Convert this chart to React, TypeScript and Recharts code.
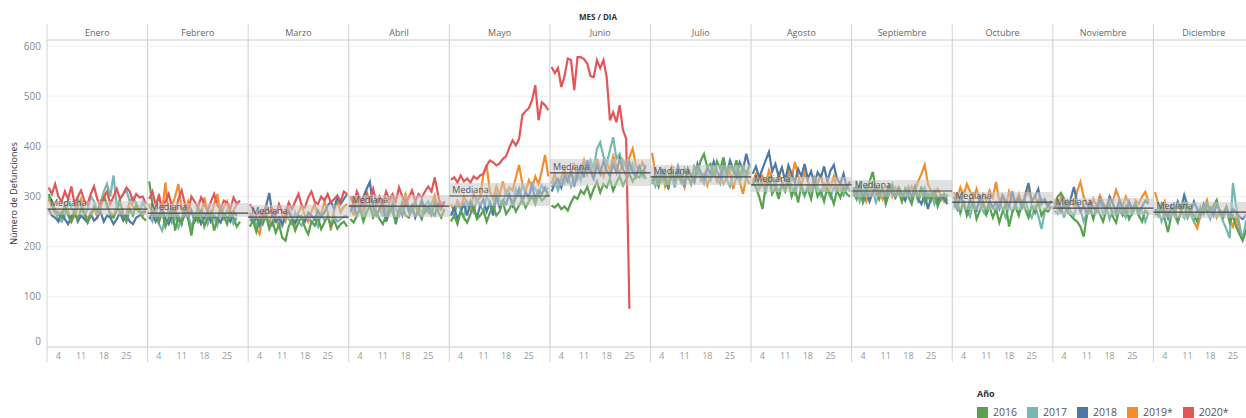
import React from 'react';
import { LineChart, Line, XAxis, YAxis, CartesianGrid, ReferenceLine, ReferenceArea, Legend } from 'recharts';

const FONT = '"Open Sans", "DejaVu Sans", sans-serif';
const DAYS = 31;

const months = ['Enero', 'Febrero', 'Marzo', 'Abril', 'Mayo', 'Junio', 'Julio', 'Agosto', 'Septiembre', 'Octubre', 'Noviembre', 'Diciembre'];
const dayTicks = [4, 11, 18, 25];
const yTicks = [0, 100, 200, 300, 400, 500, 600];

// mediana mensual y banda gris alrededor
const medians = [275, 267, 259, 281, 301, 347, 339, 323, 311, 289, 277, 269];
const bandLow = [263, 259, 255, 259, 281, 321, 323, 309, 299, 273, 263, 257];
const bandHigh = [291, 287, 283, 303, 327, 375, 363, 339, 333, 309, 297, 289];

// defunciones diarias, un array por mes
const d2016 = [
  [305, 290, 272, 265, 258, 280, 262, 250, 270, 255, 275, 268, 248, 262, 280, 270, 288, 298, 285, 262, 258, 272, 290, 265, 250, 275, 262, 285, 270, 258, 252],
  [330, 285, 262, 248, 270, 240, 258, 275, 232, 262, 245, 280, 255, 222, 262, 250, 275, 240, 258, 268, 232, 255, 278, 262, 245, 270, 258, 240, 250],
  [240, 252, 230, 258, 245, 262, 235, 250, 228, 245, 218, 212, 240, 255, 232, 248, 260, 238, 225, 250, 242, 258, 235, 248, 262, 240, 252, 236, 245, 250, 240],
  [255, 248, 262, 275, 250, 268, 282, 258, 270, 255, 245, 262, 278, 268, 250, 272, 285, 262, 258, 275, 290, 268, 255, 280, 272, 262, 288, 270, 258, 275],
  [250, 262, 245, 270, 258, 248, 265, 280, 255, 262, 272, 250, 268, 282, 262, 270, 290, 265, 275, 288, 270, 282, 295, 278, 290, 300, 285, 305, 292, 298, 310],
  [282, 278, 285, 275, 280, 272, 288, 300, 295, 312, 305, 320, 298, 315, 330, 308, 325, 318, 335, 312, 328, 340, 322, 335, 345, 330, 342, 338, 350, 335],
  [325, 338, 320, 345, 332, 318, 350, 335, 342, 328, 355, 340, 325, 360, 348, 372, 385, 358, 365, 340, 370, 355, 378, 345, 362, 350, 372, 340, 358, 345, 362],
  [330, 318, 300, 275, 320, 335, 305, 318, 295, 325, 310, 330, 300, 318, 288, 322, 305, 315, 295, 328, 300, 312, 290, 318, 305, 285, 312, 298, 320, 305, 300],
  [310, 295, 320, 288, 305, 330, 349, 312, 295, 318, 285, 305, 322, 298, 310, 290, 315, 300, 285, 312, 298, 320, 288, 305, 292, 310, 280, 298, 305, 290],
  [300, 285, 270, 292, 262, 278, 288, 255, 272, 290, 265, 280, 258, 275, 248, 270, 285, 240, 268, 280, 262, 290, 275, 258, 282, 268, 290, 262, 275, 270, 280],
  [285, 300, 307, 295, 270, 262, 255, 250, 240, 220, 262, 275, 255, 280, 265, 250, 272, 285, 260, 248, 275, 262, 280, 255, 268, 285, 262, 250, 272, 265],
  [270, 262, 280, 255, 229, 262, 275, 250, 268, 285, 258, 272, 262, 250, 278, 265, 285, 270, 282, 293, 265, 258, 275, 248, 262, 240, 225, 212, 230, 245, 250],
];
const d2017 = [
  [300, 285, 270, 255, 250, 262, 290, 278, 268, 295, 282, 260, 275, 300, 290, 270, 280, 310, 325, 300, 342, 280, 295, 305, 312, 290, 298, 285, 270, 288, 275],
  [262, 250, 275, 245, 232, 258, 270, 248, 262, 238, 255, 280, 262, 240, 258, 272, 250, 265, 245, 270, 258, 242, 268, 255, 272, 260, 245, 258],
  [250, 262, 245, 238, 255, 268, 248, 242, 258, 250, 240, 262, 255, 245, 268, 250, 242, 258, 262, 248, 255, 240, 265, 252, 258, 245, 262, 250, 255, 260, 262],
  [268, 275, 282, 270, 262, 285, 278, 268, 290, 275, 262, 282, 270, 288, 275, 265, 280, 292, 278, 270, 285, 275, 268, 282, 290, 278, 285, 272, 280, 290],
  [270, 262, 285, 275, 258, 290, 280, 268, 295, 282, 270, 300, 288, 278, 305, 292, 285, 310, 298, 288, 315, 302, 320, 308, 295, 325, 315, 305, 322, 312, 318],
  [318, 330, 312, 335, 325, 342, 320, 338, 350, 332, 360, 345, 372, 355, 395, 408, 380, 365, 392, 418, 375, 385, 360, 372, 350, 365, 345, 358, 340, 352],
  [335, 320, 345, 330, 352, 325, 340, 318, 348, 335, 322, 355, 340, 328, 350, 338, 325, 345, 332, 352, 338, 325, 348, 335, 320, 342, 355, 330, 345, 338, 350],
  [322, 335, 315, 328, 305, 340, 318, 330, 308, 325, 312, 338, 320, 305, 328, 315, 300, 322, 310, 335, 318, 302, 325, 312, 298, 320, 308, 315, 302, 318, 310],
  [300, 315, 290, 308, 322, 298, 312, 288, 305, 318, 295, 310, 325, 300, 315, 292, 308, 320, 298, 312, 290, 305, 318, 295, 310, 285, 300, 292, 305, 298],
  [278, 290, 265, 285, 272, 260, 288, 275, 295, 270, 262, 285, 278, 268, 290, 275, 258, 282, 270, 288, 265, 278, 292, 270, 258, 280, 262, 235, 270, 282, 278],
  [272, 265, 280, 258, 290, 270, 262, 285, 275, 250, 268, 282, 260, 275, 290, 265, 280, 255, 272, 262, 285, 270, 258, 275, 265, 280, 262, 272, 250, 268],
  [262, 275, 250, 268, 255, 280, 262, 248, 272, 258, 282, 265, 250, 275, 262, 285, 270, 255, 278, 262, 268, 250, 235, 217, 327, 280, 245, 213, 250, 265, 270],
];
const d2018 = [
  [275, 262, 258, 250, 268, 255, 245, 260, 270, 250, 262, 255, 248, 265, 252, 258, 270, 250, 262, 258, 245, 255, 268, 252, 262, 250, 245, 258, 262, 270, 268],
  [255, 268, 250, 262, 278, 255, 245, 262, 270, 252, 248, 265, 258, 272, 250, 262, 245, 258, 268, 250, 262, 255, 248, 265, 258, 250, 268, 262],
  [262, 250, 258, 245, 268, 280, 307, 262, 250, 258, 245, 262, 270, 255, 248, 262, 258, 250, 268, 262, 255, 272, 260, 268, 282, 290, 275, 300, 285, 295, 305],
  [270, 285, 262, 278, 300, 315, 329, 280, 262, 275, 290, 250, 268, 282, 245, 275, 262, 290, 270, 282, 258, 275, 292, 268, 280, 270, 262, 285, 278, 290],
  [262, 278, 255, 270, 285, 262, 290, 275, 258, 282, 295, 270, 288, 262, 300, 278, 292, 285, 305, 282, 298, 315, 290, 308, 300, 322, 295, 312, 305, 318, 300],
  [310, 325, 335, 318, 342, 330, 352, 320, 345, 360, 338, 372, 350, 335, 362, 345, 370, 352, 340, 365, 348, 375, 355, 342, 368, 350, 338, 360, 345, 362],
  [330, 345, 322, 352, 338, 315, 348, 332, 360, 340, 325, 355, 342, 330, 365, 348, 335, 358, 345, 370, 350, 338, 362, 345, 372, 355, 340, 368, 352, 385, 360],
  [345, 360, 338, 355, 372, 389, 350, 365, 340, 358, 332, 362, 345, 328, 355, 340, 365, 335, 350, 325, 348, 338, 360, 330, 352, 363, 335, 325, 345, 318, 330],
  [318, 305, 325, 298, 312, 290, 308, 320, 300, 315, 295, 322, 308, 298, 318, 305, 292, 312, 300, 320, 295, 285, 305, 275, 298, 310, 290, 302, 295, 285],
  [290, 275, 300, 285, 268, 295, 280, 272, 298, 285, 270, 292, 278, 288, 275, 302, 290, 280, 310, 285, 298, 275, 305, 327, 290, 300, 315, 285, 295, 280, 290],
  [278, 290, 270, 285, 275, 295, 319, 288, 270, 282, 265, 290, 278, 270, 295, 282, 275, 300, 285, 270, 292, 278, 268, 290, 275, 285, 270, 280, 292, 285],
  [275, 262, 285, 270, 258, 280, 268, 290, 275, 303, 282, 268, 290, 275, 262, 285, 270, 278, 262, 285, 272, 265, 280, 258, 275, 268, 260, 255, 262, 270, 275],
];
const d2019 = [
  [295, 280, 265, 270, 258, 285, 272, 250, 262, 280, 295, 270, 255, 268, 275, 260, 290, 305, 280, 268, 262, 278, 270, 255, 265, 290, 280, 275, 268, 262, 275],
  [285, 262, 278, 305, 270, 328, 262, 282, 300, 325, 275, 262, 290, 270, 255, 280, 262, 298, 270, 258, 285, 305, 262, 278, 290, 265, 272, 285],
  [268, 250, 238, 225, 258, 262, 245, 270, 255, 238, 262, 250, 275, 258, 245, 268, 282, 262, 250, 270, 285, 258, 262, 290, 270, 232, 275, 292, 268, 280, 285],
  [285, 262, 295, 278, 270, 312, 285, 262, 280, 295, 270, 258, 288, 300, 275, 262, 290, 305, 278, 270, 285, 262, 292, 278, 268, 285, 302, 275, 288, 280],
  [285, 270, 292, 278, 300, 285, 272, 305, 290, 298, 345, 362, 310, 295, 320, 302, 330, 305, 318, 312, 338, 363, 325, 310, 332, 318, 340, 325, 352, 383, 340],
  [325, 345, 318, 338, 355, 330, 348, 362, 335, 350, 372, 345, 360, 338, 375, 355, 340, 368, 352, 380, 360, 345, 372, 358, 378, 395, 362, 350, 368, 355],
  [387, 345, 330, 352, 320, 340, 358, 325, 345, 335, 318, 350, 340, 328, 355, 332, 345, 322, 340, 352, 330, 345, 325, 338, 350, 315, 342, 330, 305, 338, 325],
  [330, 345, 318, 340, 325, 352, 335, 320, 345, 330, 318, 350, 335, 369, 340, 322, 348, 330, 315, 338, 325, 345, 310, 332, 318, 340, 312, 328, 305, 320, 315],
  [305, 320, 298, 312, 290, 308, 325, 302, 315, 295, 310, 322, 300, 318, 305, 292, 315, 302, 320, 310, 330, 345, 363, 325, 310, 298, 315, 302, 290, 305],
  [308, 295, 318, 302, 325, 310, 295, 315, 288, 305, 292, 312, 298, 329, 290, 302, 280, 310, 292, 288, 305, 282, 298, 312, 290, 302, 285, 295, 288, 282, 292],
  [290, 275, 300, 285, 270, 295, 282, 310, 329, 300, 285, 270, 295, 280, 302, 288, 275, 298, 290, 313, 295, 280, 300, 285, 270, 292, 285, 300, 309, 290],
  [309, 285, 272, 290, 265, 280, 262, 285, 272, 258, 278, 265, 250, 237, 262, 275, 293, 270, 282, 258, 272, 262, 280, 255, 240, 260, 232, 218, 240, 250, 258],
];
const d2020 = [
  [318, 305, 325, 300, 290, 310, 295, 320, 285, 300, 312, 292, 285, 305, 320, 295, 280, 298, 310, 285, 300, 315, 295, 305, 318, 310, 290, 305, 298, 300, 285],
  [295, 310, 282, 300, 275, 290, 305, 280, 268, 295, 312, 285, 270, 300, 290, 278, 298, 285, 270, 290, 305, 282, 275, 292, 288, 275, 298, 285, 292],
  [285, 275, 262, 270, 258, 280, 268, 275, 262, 285, 270, 265, 288, 275, 290, 305, 282, 278, 298, 310, 290, 285, 300, 292, 305, 288, 295, 302, 290, 310, 305],
  [300, 285, 310, 295, 280, 305, 292, 315, 288, 300, 282, 310, 295, 305, 290, 318, 300, 285, 298, 312, 290, 305, 298, 310, 320, 310, 338, 305, 275, 288],
  [333, 338, 328, 342, 330, 336, 328, 340, 335, 342, 345, 362, 372, 368, 362, 366, 375, 380, 398, 412, 402, 415, 462, 470, 476, 492, 522, 452, 488, 482, 472],
  [558, 546, 556, 518, 540, 575, 572, 512, 578, 578, 574, 565, 540, 538, 572, 556, 572, 538, 452, 468, 448, 482, 433, 415, 76],
];

const legendOrder = [
  { name: '2016', color: '#59A14F' },
  { name: '2017', color: '#76B7B2' },
  { name: '2018', color: '#4E79A7' },
  { name: '2019*', color: '#F28E2B' },
  { name: '2020*', color: '#E15759' },
];

// orden de dibujo (la ultima queda encima)
const series = [
  { key: 'y2019', name: '2019*', color: '#F28E2B', values: d2019 },
  { key: 'y2017', name: '2017', color: '#76B7B2', values: d2017 },
  { key: 'y2018', name: '2018', color: '#4E79A7', values: d2018 },
  { key: 'y2016', name: '2016', color: '#59A14F', values: d2016 },
  { key: 'y2020', name: '2020*', color: '#E15759', values: d2020 },
];

const rows: any[] = [];
months.forEach((_, m) => {
  for (let d = 1; d <= DAYS; d++) {
    const row: any = { x: m * DAYS + d - 0.5 };
    series.forEach((s) => {
      const v = s.values[m] ? s.values[m][d - 1] : undefined;
      row[s.key] = v === undefined ? null : v;
    });
    rows.push(row);
  }
  // fila vacia para cortar la linea entre paneles
  const gap: any = { x: (m + 1) * DAYS - 0.01 };
  series.forEach((s) => (gap[s.key] = null));
  rows.push(gap);
});

const bottomTicks = months.flatMap((_, m) => [m * DAYS, ...dayTicks.map((d) => m * DAYS + d - 0.5)]);
const topTicks = months.flatMap((_, m) => [m * DAYS, m * DAYS + DAYS / 2]);
const isBorder = (v: number) => Math.abs(v % DAYS) < 1e-6;

const BottomTick = ({ x, y, payload }: any) => {
  const v = payload.value;
  if (isBorder(v)) return <line x1={x} x2={x} y1={y} y2={y + 15} stroke="#d4d4d4" />;
  const day = Math.round(v - Math.floor(v / DAYS) * DAYS + 0.5);
  return (
    <text x={x} y={y + 12} textAnchor="middle" fontSize={9} fill="#999999" fontFamily={FONT}>
      {day}
    </text>
  );
};

const TopTick = ({ x, y, payload }: any) => {
  const v = payload.value;
  if (isBorder(v)) return <line x1={x} x2={x} y1={y - 16} y2={y} stroke="#d4d4d4" />;
  return (
    <text x={x} y={y - 4} textAnchor="middle" fontSize={9} fill="#666666" fontFamily={FONT}>
      {months[Math.floor(v / DAYS)]}
    </text>
  );
};

const YTick = ({ x, y, payload }: any) => (
  <text x={x} y={(payload.value === 0 ? y - 6 : y) + 3.5} textAnchor="end" fontSize={10} fill="#888888" fontFamily={FONT}>
    {payload.value}
  </text>
);

const YTitle = ({ viewBox }: any) => {
  const cx = viewBox.x + 13;
  const cy = viewBox.y + viewBox.height / 2;
  return (
    <text x={cx} y={cy} transform={`rotate(-90 ${cx} ${cy})`} textAnchor="middle" dominantBaseline="central" fontSize={9} fill="#333" fontFamily={FONT}>
      Número de Defunciones
    </text>
  );
};

const TopTitle = () => (
  <text x={598} y={20} textAnchor="middle" fontSize={8} fontWeight={700} fill="#333" fontFamily={FONT}>
    MES / DIA
  </text>
);

const MedianLabel = ({ viewBox }: any) => (
  <text x={viewBox.x + 3} y={viewBox.y - 3} fontSize={9} fill="#555" fontFamily={FONT}>
    Mediana
  </text>
);

const renderLegend = () => (
  <div style={{ fontFamily: FONT, whiteSpace: 'nowrap' }}>
    <div style={{ fontSize: 9, fontWeight: 700, color: '#333', lineHeight: '12px', marginBottom: 6 }}>Año</div>
    <div style={{ display: 'flex', alignItems: 'center' }}>
      {legendOrder.map((s) => (
        <div key={s.name} style={{ display: 'flex', alignItems: 'center', marginRight: 10 }}>
          <span style={{ display: 'inline-block', width: 11, height: 11, background: s.color, marginRight: 5 }} />
          <span style={{ fontSize: 10.5, color: '#555', lineHeight: '12px' }}>{s.name}</span>
        </div>
      ))}
    </div>
  </div>
);

export default function App() {
  return (
    <div style={{ position: 'absolute', left: 0, top: 0, width: 1246, height: 418, overflow: 'hidden', background: '#fff' }}>
      <LineChart
        width={1262}
        height={418}
        data={rows}
        margin={{ top: 24, right: 8, bottom: 56, left: 0 }}
        style={{ fontFamily: FONT }}
      >
        <CartesianGrid vertical={false} stroke="#efefef" />
        <XAxis
          dataKey="x"
          type="number"
          domain={[0, DAYS * 12]}
          ticks={bottomTicks}
          interval={0}
          height={15}
          tickSize={0}
          tickMargin={0}
          tickLine={false}
          axisLine={{ stroke: '#d4d4d4' }}
          tick={<BottomTick />}
          allowDataOverflow
        />
        <XAxis
          xAxisId="top"
          dataKey="x"
          type="number"
          orientation="top"
          domain={[0, DAYS * 12]}
          ticks={topTicks}
          interval={0}
          height={16}
          tickSize={0}
          tickMargin={0}
          tickLine={false}
          axisLine={{ stroke: '#d4d4d4' }}
          tick={<TopTick />}
          label={<TopTitle />}
          allowDataOverflow
        />
        <YAxis
          type="number"
          domain={[0, 612]}
          ticks={yTicks}
          interval={0}
          width={47}
          tickSize={0}
          tickMargin={6}
          tickLine={false}
          axisLine={{ stroke: '#d4d4d4' }}
          tick={<YTick />}
          label={<YTitle />}
        />
        {months.slice(1).map((_, i) => (
          <ReferenceLine key={`sep-${i}`} x={(i + 1) * DAYS} stroke="#d4d4d4" strokeWidth={1.2} />
        ))}
        {series.map((s) => (
          <Line
            key={s.key}
            dataKey={s.key}
            name={s.name}
            stroke={s.color}
            strokeWidth={2.2}
            dot={false}
            activeDot={false}
            type="linear"
            connectNulls={false}
            isAnimationActive={false}
          />
        ))}
        {months.map((_, m) => (
          <ReferenceArea
            key={`band-${m}`}
            x1={m * DAYS}
            x2={(m + 1) * DAYS}
            y1={bandLow[m]}
            y2={bandHigh[m]}
            fill="#c8c8c8"
            fillOpacity={0.55}
            stroke="none"
            zIndex={450}
          />
        ))}
        {months.map((_, m) => (
          <ReferenceLine
            key={`med-${m}`}
            segment={[
              { x: m * DAYS, y: medians[m] },
              { x: (m + 1) * DAYS, y: medians[m] },
            ]}
            stroke="#444"
            strokeWidth={1.2}
            zIndex={460}
            label={<MedianLabel />}
          />
        ))}
        <Legend
          layout="horizontal"
          verticalAlign="middle"
          align="center"
          wrapperStyle={{ left: 977, top: 388, width: 268 }}
          content={renderLegend}
        />
      </LineChart>
    </div>
  );
}
